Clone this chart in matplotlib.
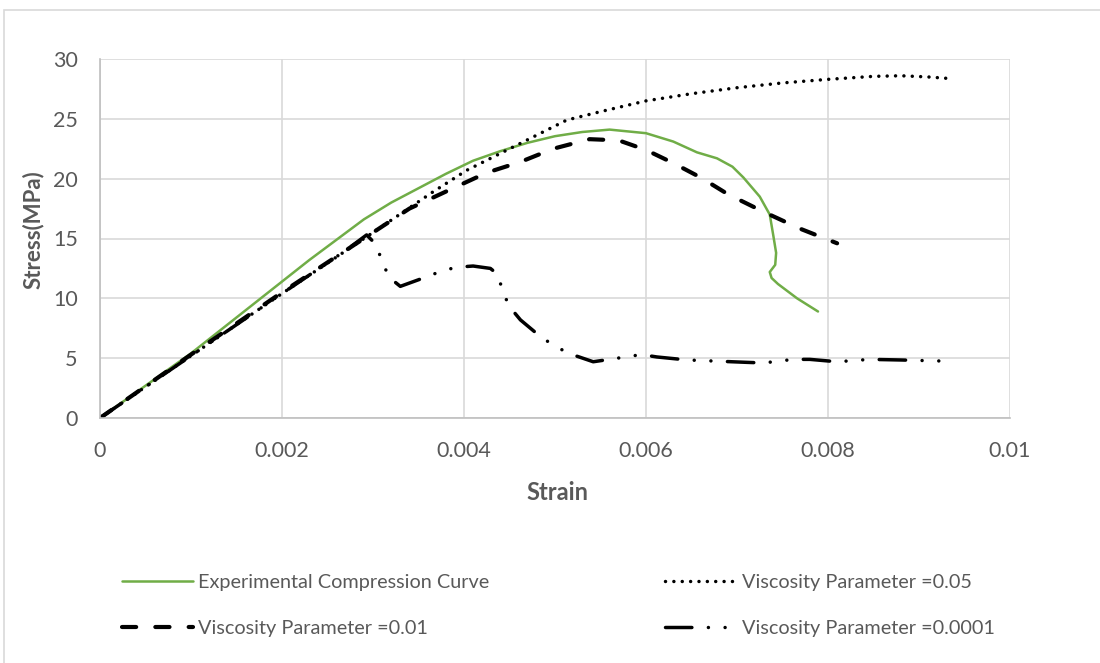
import matplotlib
matplotlib.use("Agg")
import matplotlib.pyplot as plt
from matplotlib.patches import Rectangle

plt.rcParams['font.family'] = ['Lato', 'DejaVu Sans']

# Experimental compression curve
exp_strain = [0, 0.0005, 0.001, 0.0015, 0.002, 0.0023, 0.0026, 0.0029, 0.0032, 0.0035,
              0.0038, 0.0041, 0.0044, 0.0047, 0.005, 0.0053, 0.0056, 0.006, 0.0063, 0.00656,
              0.00678, 0.00695, 0.00707, 0.00725, 0.00736, 0.0074, 0.00743, 0.00742, 0.00736,
              0.00738, 0.00745, 0.00766, 0.00789]
exp_stress = [0, 2.7, 5.4, 8.4, 11.4, 13.2, 14.9, 16.6, 18.0, 19.2,
              20.4, 21.5, 22.3, 23.0, 23.55, 23.9, 24.1, 23.8, 23.1, 22.2,
              21.7, 21.0, 20.1, 18.5, 17.0, 15.2, 13.8, 12.8, 12.2,
              11.7, 11.2, 10.0, 8.9]

# Viscosity parameter = 0.05
v005_strain = [0, 0.001, 0.002, 0.003, 0.00366, 0.00403, 0.00458, 0.00513, 0.0055, 0.006,
               0.0065, 0.007, 0.0075, 0.008, 0.0085, 0.0088, 0.0091, 0.00937]
v005_stress = [0, 5.2, 10.4, 15.5, 18.9, 20.7, 22.8, 24.9, 25.6, 26.5,
               27.1, 27.6, 28.0, 28.3, 28.55, 28.6, 28.5, 28.35]

# Viscosity parameter = 0.01
v001_strain = [0, 0.001, 0.002, 0.003, 0.0034, 0.00388, 0.00425, 0.00462, 0.00498, 0.00538,
               0.0057, 0.006, 0.0063, 0.0066, 0.0069, 0.0073, 0.0077, 0.0081]
v001_stress = [0, 5.3, 10.5, 15.5, 17.5, 19.2, 20.5, 21.4, 22.5, 23.3,
               23.2, 22.4, 21.3, 20.1, 18.7, 17.2, 15.8, 14.6]

# Viscosity parameter = 0.0001
v00001_strain = [0, 0.001, 0.002, 0.0027, 0.00293, 0.00302, 0.00311, 0.00317, 0.0033, 0.00359,
                 0.00376, 0.00392, 0.0041, 0.00429, 0.00437, 0.00443, 0.0045, 0.00462, 0.00484,
                 0.00498, 0.00515, 0.00542, 0.0056, 0.00595, 0.00612, 0.00645, 0.00678, 0.00711,
                 0.00729, 0.00762, 0.0078, 0.0081, 0.00846, 0.00879, 0.00931]
v00001_stress = [0, 5.2, 10.4, 14.0, 15.3, 14.6, 13.0, 11.8, 11.0, 11.8,
                 12.3, 12.6, 12.7, 12.5, 12.0, 10.5, 9.3, 8.2, 6.8,
                 6.1, 5.4, 4.7, 4.9, 5.3, 5.1, 4.85, 4.75, 4.65,
                 4.6, 4.9, 4.9, 4.7, 4.9, 4.85, 4.75]

x_ticks = [0, 0.002, 0.004, 0.006, 0.008, 0.01]
x_tick_labels = ['0', '0.002', '0.004', '0.006', '0.008', '0.01']
y_ticks = [0, 5, 10, 15, 20, 25, 30]

text_gray = '#595959'
grid_gray = '#d9d9d9'

fig = plt.figure(figsize=(11, 6.63), dpi=100)
ax = fig.add_axes([100 / 1100, 1 - 418 / 663, 910 / 1100, 359 / 663])

# outer chart frame
fig.patches.append(Rectangle((4 / 1100, -0.1), 1.2, 1 - 10 / 663 + 0.1,
                             transform=fig.transFigure, fill=False,
                             edgecolor=grid_gray, linewidth=1.2, zorder=0))

l_exp, = ax.plot(exp_strain, exp_stress, color='#70ad47', lw=1.8,
                 label='Experimental Compression Curve',
                 solid_capstyle='round', solid_joinstyle='round')
l_005, = ax.plot(v005_strain, v005_stress, color='black', lw=2.5,
                 linestyle=(0, (0.01, 2.4)), dash_capstyle='round',
                 label='Viscosity Parameter =0.05')
l_001, = ax.plot(v001_strain, v001_stress, color='black', lw=3.0,
                 linestyle=(0, (3.4, 4.6)), dash_capstyle='round',
                 label='Viscosity Parameter =0.01')
l_00001, = ax.plot(v00001_strain, v00001_stress, color='black', lw=2.5,
                   linestyle=(0, (7.6, 4.75, 0.01, 4.8, 0.01, 4.75)),
                   dash_capstyle='round', label='Viscosity Parameter =0.0001')

ax.set_xlim(0, 0.01)
ax.set_ylim(0, 30)
ax.set_xticks(x_ticks)
ax.set_xticklabels(x_tick_labels)
ax.set_yticks(y_ticks)
ax.tick_params(length=0, labelsize=15.5, colors=text_gray)
ax.tick_params(axis='y', pad=16)
ax.tick_params(axis='x', pad=16.5)
ax.grid(True, color=grid_gray, lw=1.2)
ax.set_axisbelow(True)
for s in ['top', 'right']:
    ax.spines[s].set_visible(False)
for s in ['left', 'bottom']:
    ax.spines[s].set_color('#bfbfbf')
    ax.spines[s].set_linewidth(1.2)

ax.set_xlabel('Strain', fontsize=17, fontweight='bold', color=text_gray)
ax.set_ylabel('Stress(MPa)', fontsize=16, fontweight='bold', color=text_gray)
ax.xaxis.set_label_coords(457 / 910, -63 / 359)
ax.yaxis.set_label_coords(-56 / 910, 188 / 359)

leg = ax.legend(handles=[l_exp, l_001, l_005, l_00001], ncol=2,
                loc='upper left', bbox_to_anchor=(22 / 910, -156 / 359),
                frameon=False, fontsize=14.3, handlelength=3.55,
                columnspacing=8.85, labelspacing=1.45, handletextpad=0.3,
                borderaxespad=0, borderpad=0)
for t in leg.get_texts():
    t.set_color(text_gray)

fig.savefig('out.png', dpi=100)
